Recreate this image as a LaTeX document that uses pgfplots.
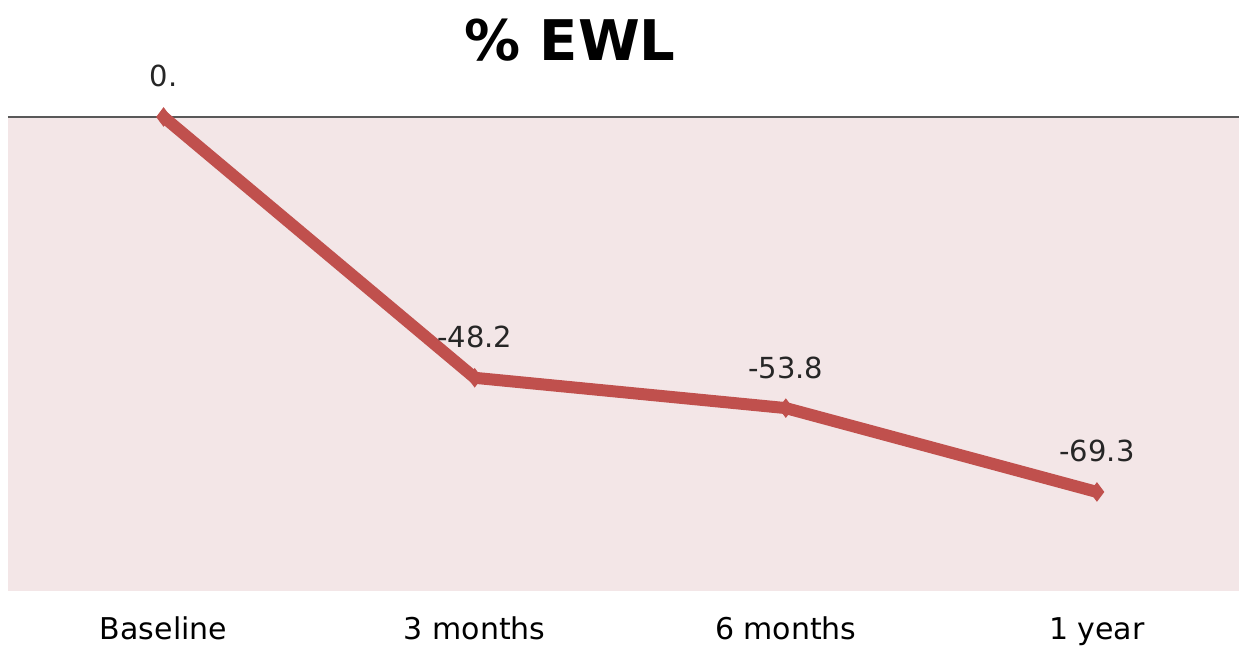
\documentclass[border=0pt]{standalone}
\usepackage{fontspec}
\setmainfont{DejaVu Sans}
\usepackage{pgfplots}
\pgfplotsset{compat=1.18}
\definecolor{linered}{RGB}{192,80,77}
\definecolor{plotbg}{RGB}{243,230,231}
\begin{document}
\begin{tikzpicture}
\begin{axis}[
  at={(0,0)}, anchor=south west,
  scale only axis,
  width=615.5pt, height=237pt,
  xmin=-0.5, xmax=3.4566,
  ymin=-87.6, ymax=0,
  axis line style={draw=none},
  tick style={draw=none},
  axis background/.style={fill=plotbg},
  clip=false,
  xtick={0,1,2,3},
  xticklabels={Baseline,3 months,6 months,1 year},
  ytick=\empty,
  major tick length=0pt,
  xticklabel style={font=\fontsize{15}{17}\selectfont, anchor=base, yshift=-24.5pt},
  nodes near coords,
  point meta=explicit symbolic,
  every node near coord/.append style={font=\fontsize{14.5}{17}\selectfont, anchor=base, yshift=15pt, black!85},
]
\draw[gray!70!black, line width=0.6pt] (rel axis cs:0,1) -- (rel axis cs:1,1);
\addplot[color=linered, line width=6pt, mark=diamond*, mark size=4.5pt, mark options={solid, fill=linered, line width=0.5pt}]
  coordinates {(0,0) [0.] (1,-48.2) [-48.2] (2,-53.8) [-53.8] (3,-69.3) [-69.3]};
\node[font=\bfseries\fontsize{28}{30}\selectfont, anchor=center] at (rel axis cs:0.4565,1.1624) {\% EWL};
\end{axis}
\pgfresetboundingbox
\path[use as bounding box] (-4pt,-27.5pt) rectangle (615.5pt,295.5pt);
\end{tikzpicture}
\end{document}
